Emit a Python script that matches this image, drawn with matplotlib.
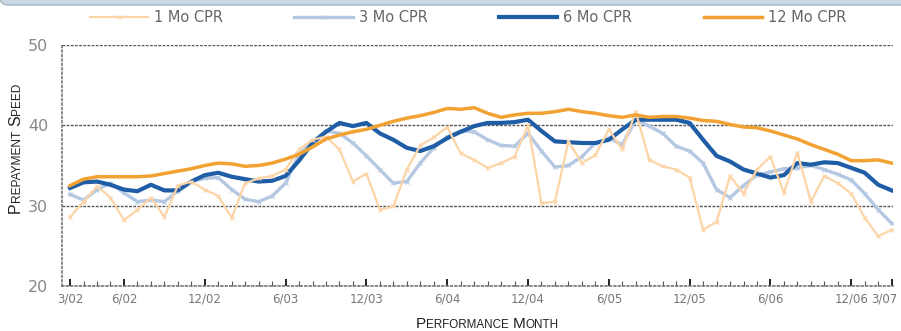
import matplotlib.pyplot as plt
import matplotlib.transforms as mtransforms
from matplotlib.patches import FancyBboxPatch

# Monthly prepayment speeds, one value per month
months = list(range(62))
tick_pos = [0, 4, 10, 16, 22, 28, 34, 40, 46, 52, 58, 61]
tick_labels = ['3/02', '6/02', '12/02', '6/03', '12/03', '6/04', '12/04',
               '6/05', '12/05', '6/06', '12/06', '3/07']

cpr_1mo = [28.6, 30.5, 32.4, 31.0, 28.2, 29.5, 31.0, 28.6, 32.5, 33.0,
           32.0, 31.2, 28.5, 32.8, 33.4, 33.7, 34.5, 37.0, 38.2, 38.6,
           37.0, 33.0, 34.0, 29.5, 29.9, 34.5, 37.5, 38.5, 39.8, 36.5,
           35.7, 34.7, 35.3, 36.1, 40.0, 30.3, 30.5, 38.0, 35.3, 36.3,
           39.5, 37.0, 41.7, 35.7, 34.9, 34.5, 33.5, 27.0, 28.0, 33.7,
           31.5, 34.5, 36.1, 31.6, 36.6, 30.5, 33.7, 32.8, 31.5, 28.5,
           26.2, 27.0]
cpr_3mo = [31.4, 30.7, 32.0, 32.8, 31.6, 30.5, 30.7, 30.5, 31.8, 33.0,
           33.4, 33.5, 32.0, 30.8, 30.5, 31.2, 32.8, 36.4, 38.0, 39.3,
           39.0, 37.8, 36.2, 34.5, 32.8, 33.0, 35.3, 37.2, 38.6, 39.3,
           39.2, 38.2, 37.5, 37.4, 39.0, 36.8, 34.8, 35.0, 36.1, 37.8,
           38.4, 37.6, 40.7, 39.9, 39.0, 37.4, 36.8, 35.3, 32.0, 31.0,
           32.5, 33.8, 34.2, 34.6, 34.7, 35.0, 34.5, 33.9, 33.2, 31.5,
           29.5, 27.8]
cpr_6mo = [32.2, 32.9, 33.0, 32.6, 32.0, 31.8, 32.6, 31.9, 31.9, 33.0,
           33.8, 34.1, 33.6, 33.3, 33.0, 33.1, 33.7, 35.6, 37.8, 39.2,
           40.3, 39.9, 40.3, 39.0, 38.2, 37.2, 36.8, 37.4, 38.4, 39.2,
           39.9, 40.3, 40.3, 40.4, 40.7, 39.3, 38.0, 37.9, 37.8, 37.8,
           38.2, 39.5, 40.7, 40.7, 40.7, 40.7, 40.3, 38.2, 36.2, 35.5,
           34.5, 34.0, 33.5, 33.8, 35.3, 35.1, 35.4, 35.3, 34.7, 34.1,
           32.6, 31.9]
cpr_12mo = [32.5, 33.3, 33.6, 33.6, 33.6, 33.6, 33.7, 34.0, 34.3, 34.6,
            35.0, 35.3, 35.2, 34.9, 35.0, 35.3, 35.8, 36.4, 37.3, 38.3,
            38.8, 39.2, 39.5, 40.0, 40.5, 40.9, 41.2, 41.6, 42.1, 42.0,
            42.2, 41.5, 41.0, 41.3, 41.5, 41.5, 41.7, 42.0, 41.7, 41.5,
            41.2, 41.0, 41.3, 41.0, 41.1, 41.1, 40.9, 40.6, 40.5, 40.1,
            39.8, 39.7, 39.3, 38.8, 38.3, 37.6, 37.0, 36.4, 35.6, 35.6,
            35.7, 35.3]

fig = plt.figure(figsize=(9.01, 3.31), dpi=100)

# header band along the top edge
band = FancyBboxPatch((0, 326), 1000, 30, boxstyle='round,pad=0,rounding_size=8',
                      transform=None, facecolor='#c9d6e3', edgecolor='#a9b7c5', lw=1)
fig.patches.append(band)

ax = fig.add_axes([62 / 901, 45 / 331, 831 / 901, 241 / 331])

l3, = ax.plot(months, cpr_3mo, color='#b5c8e2', lw=2.4, marker='x', ms=3, mew=0.8, zorder=2)
l6, = ax.plot(months, cpr_6mo, color='#1f5ea6', lw=3.0, zorder=3)
l1, = ax.plot(months, cpr_1mo, color='#fdd4a6', lw=1.6, marker='x', ms=3, mew=0.8, zorder=4)
l12, = ax.plot(months, cpr_12mo, color='#f2a232', lw=2.5, zorder=5)

ax.set_xlim(-0.6, 61.1)
ax.set_ylim(20, 50)
ax.set_yticks([20, 30, 40, 50])
ax.set_xticks(tick_pos)
ax.set_xticklabels(tick_labels)
ax.set_xticks(months, minor=True)

ax.tick_params(axis='y', length=0, pad=10, labelsize=11.5, labelcolor='#888888')
ax.tick_params(axis='x', which='major', direction='in', length=5, width=1.4,
               color='#222222', labelsize=8.5, labelcolor='#777777', pad=5)
ax.tick_params(axis='x', which='minor', direction='in', length=3.5, width=0.8,
               color='#555555')

# nudge the last month label left so it stays inside the figure
last = ax.get_xticklabels()[-1]
last.set_transform(last.get_transform() + mtransforms.ScaledTranslation(-7 / 100, 0, fig.dpi_scale_trans))

ax.grid(axis='y', linestyle=(0, (2, 1)), color='#555555', lw=1)
for side in ['top', 'right']:
    ax.spines[side].set_visible(False)
for side in ['left', 'bottom']:
    ax.spines[side].set_linestyle(':')
    ax.spines[side].set_color('#777777')
    ax.spines[side].set_linewidth(1.2)

fig.legend([l1, l3, l6, l12], ['1 Mo CPR', '3 Mo CPR', '6 Mo CPR', '12 Mo CPR'],
           loc='center', bbox_to_anchor=(468 / 901, 1 - 18 / 331), ncol=4,
           frameon=False, handlelength=4, columnspacing=4.9, handletextpad=0.4,
           fontsize=10.5, labelcolor='#666666')


def small_caps(parts, x, y, rotation=0):
    # chain pieces of text one after another, big capitals and smaller rest
    prev = None
    for text, size in parts:
        kw = dict(fontsize=size, family='Liberation Sans', color='#222222',
                  rotation=rotation, annotation_clip=False)
        if prev is None:
            if rotation:
                prev = ax.annotate(text, xy=(x, y), xycoords='figure pixels',
                                   ha='right', va='bottom', **kw)
            else:
                prev = ax.annotate(text, xy=(x, y), xycoords='figure pixels',
                                   ha='left', va='bottom', **kw)
        elif rotation:
            gap = 3 if text[0] in 'SM' else 0
            prev = ax.annotate(text, xy=(1, 1), xycoords=prev, xytext=(0, gap),
                               textcoords='offset points', ha='right', va='bottom', **kw)
        else:
            gap = 3 if text[0] in 'SM' else 0
            prev = ax.annotate(text, xy=(1, 0), xycoords=prev, xytext=(gap, 0),
                               textcoords='offset points', ha='left', va='bottom', **kw)


small_caps([('P', 11.5), ('REPAYMENT', 8.6), ('S', 11.5), ('PEED', 8.6)], 23, 118, rotation=90)
small_caps([('P', 11), ('ERFORMANCE', 8.4), ('M', 11), ('ONTH', 8.4)], 416, 0)

fig.savefig('out.png', dpi=100)
